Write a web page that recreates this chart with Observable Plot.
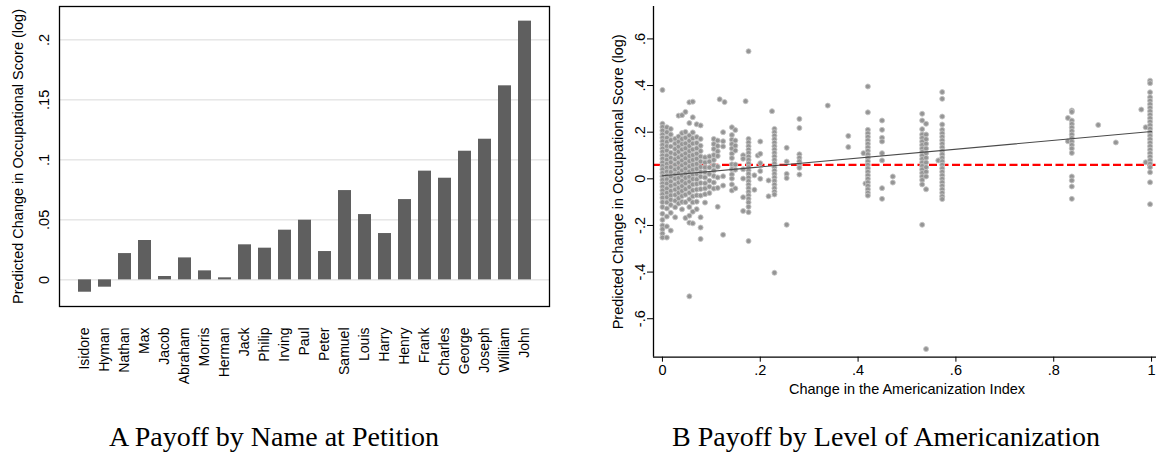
<!DOCTYPE html>
<html>
<head>
<meta charset="utf-8">
<script src="https://cdn.jsdelivr.net/npm/d3@7"></script>
<script src="https://cdn.jsdelivr.net/npm/@observablehq/plot@0.6"></script>
<style>
  html, body { margin: 0; padding: 0; background: #fff; overflow: hidden; }
  #wrap { position: relative; width: 1156px; height: 453px; overflow: hidden; background: #fff; }
  .panel { position: absolute; top: 0; }
  .panel svg { max-width: none !important; display: block; }
  .cap { position: absolute; font-family: "Liberation Serif", "Times New Roman", serif; font-size: 28px; line-height: 28px; white-space: nowrap; color: #000; transform: translateX(-50%); }
</style>
</head>
<body>
<div id="wrap">
  <div id="panelA" class="panel" style="left:0px; width:590px"></div>
  <div id="panelB" class="panel" style="left:590px; width:580px"></div>
  <div class="cap" style="left:274px; top:423px">A Payoff by Name at Petition</div>
  <div class="cap" style="left:886px; top:423px">B Payoff by Level of Americanization</div>
</div>
<script>
// ---------- Panel A data ----------
const names = ["Isidore","Hyman","Nathan","Max","Jacob","Abraham","Morris","Herman","Jack","Philip","Irving","Paul","Peter","Samuel","Louis","Harry","Henry","Frank","Charles","George","Joseph","William","John"];
const payoff = [-0.0103,-0.0061,0.0219,0.0328,0.0028,0.0183,0.0075,0.0017,0.0292,0.0264,0.0414,0.0497,0.0236,0.0744,0.0544,0.0386,0.0669,0.0906,0.0847,0.1072,0.1172,0.1617,0.2156];
const yTicksA = [0, 0.05, 0.1, 0.15, 0.2];
const yTickLabelsA = ["0", ".05", ".1", ".15", ".2"];
const yDomainA = [-0.0222, 0.2278];
const yTitle = "Predicted Change in Occupational Score (log)";

// ---------- Panel B data ----------
const xTicksB = [0, 0.2, 0.4, 0.6, 0.8, 1];
const xTickLabelsB = ["0", ".2", ".4", ".6", ".8", "1"];
const yTicksB = [-0.6, -0.4, -0.2, 0, 0.2, 0.4, 0.6];
const yTickLabelsB = ["-.6", "-.4", "-.2", "0", ".2", ".4", ".6"];
const xDomainB = [-0.0183, 1.0183];
const yDomainB = [-0.765, 0.739];
const xTitleB = "Change in the Americanization Index";
const meanPayoff = 0.06;
const fitX = [0, 1];
const fitY = [0.013, 0.203];

const columnX = [0.000,0.009,0.017,0.026,0.033,0.040,0.047,0.055,0.062,0.070,0.078,0.087,0.096,0.105,0.113,0.117,0.124,0.127,0.142,0.149,0.165,0.170,0.176,0.188,0.195,0.200,0.217,0.224,0.229,0.254,0.280,0.338,0.380,0.411,0.415,0.420,0.449,0.471,0.531,0.539,0.564,0.572,0.829,0.837,0.891,0.927,0.979,0.988,0.997];
const columnY = [
  [0.381,0.236,0.222,0.207,0.19,0.176,0.161,0.145,0.13,0.116,0.1,0.086,0.07,0.055,0.041,0.025,0.011,-0.005,-0.02,-0.034,-0.05,-0.066,-0.081,-0.1,-0.121,-0.15,-0.176,-0.2,-0.216,-0.235,-0.252],
  [0.221,0.2,0.176,0.158,0.14,0.121,0.1,0.082,0.064,0.048,0.031,0.014,-0.002,-0.02,-0.041,-0.06,-0.079,-0.101,-0.127,-0.162,-0.204,-0.252],
  [0.214,0.19,0.166,0.139,0.112,0.09,0.071,0.05,0.029,0.01,-0.011,-0.03,-0.052,-0.071,-0.09,-0.112,-0.146,-0.222],
  [0.172,0.151,0.128,0.106,0.084,0.061,0.04,0.019,0,-0.024,-0.046,-0.069,-0.094,-0.122,-0.165],
  [0.271,0.181,0.159,0.138,0.116,0.092,0.069,0.046,0.024,0.004,-0.016,-0.039,-0.06,-0.083,-0.106],
  [0.273,0.196,0.171,0.149,0.126,0.101,0.079,0.058,0.036,0.014,-0.009,-0.031,-0.052,-0.074,-0.099,-0.131],
  [0.287,0.201,0.176,0.152,0.131,0.109,0.088,0.066,0.044,0.023,0.004,-0.019,-0.044,-0.068,-0.1,-0.168],
  [0.328,0.239,0.186,0.163,0.141,0.119,0.098,0.076,0.054,0.031,0.009,-0.012,-0.035,-0.06,-0.088,-0.121,-0.158,-0.188,-0.504],
  [0.331,0.264,0.199,0.174,0.151,0.126,0.102,0.081,0.06,0.039,0.018,-0.001,-0.024,-0.049,-0.075,-0.101,-0.141,-0.191],
  [0.234,0.179,0.154,0.131,0.108,0.086,0.064,0.043,0.021,-0.002,-0.022,-0.046,-0.071,-0.098,-0.13],
  [0.229,0.171,0.142,0.119,0.096,0.074,0.051,0.029,0.009,-0.018,-0.044,-0.072,-0.165,-0.209,-0.258],
  [0.092,0.07,0.049,0.028,0.006,-0.019,-0.041,-0.066,-0.102],
  [0.096,0.074,0.049,0.021,-0.008,-0.034,-0.061],
  [0.171,0.149,0.128,0.102,0.081,0.058,0.036,0.012,-0.016,-0.042],
  [0.164,0.141,0.118,0.098,0.052,0.006,-0.039,-0.12],
  [0.341],
  [0.2,0.161,0.139,0.011,-0.029,-0.24],
  [0.329],
  [0.221,0.188,0.168,0.149,0.13,0.108,0.089,0.062,0.041,0.019,0.001,-0.024,-0.05],
  [0.209,0.164,0.142,0.121,0.061,0.039,-0.041],
  [0.101,0.086,0.041,0.001,-0.079,-0.138],
  [0.333],
  [0.547,0.171,0.156,0.14,0.125,0.111,0.095,0.081,0.066,0.05,0.036,0.021,0.005,-0.01,-0.025,-0.04,-0.056,-0.071,-0.086,-0.101,-0.12,-0.143,-0.267],
  [0.015,-0.047],
  [0.1],
  [0.16,0.107,0.067,0.033,0],
  [-0.007,-0.075],
  [0.29],
  [0.214,0.2,0.185,0.17,0.155,0.14,0.126,0.111,0.096,0.081,0.066,0.05,0.035,0.021,0.006,-0.009,-0.025,-0.04,-0.055,-0.067,-0.403],
  [0.133,0.074,0.021,0.003,-0.197],
  [0.257,0.218,0.105,0.09,0.075,0.06,0.047,0.018],
  [0.314],
  [0.184,0.136],
  [0.11],
  [-0.02],
  [0.396,0.285,0.21,0.195,0.18,0.165,0.15,0.135,0.12,0.105,0.09,0.075,0.06,0.045,0.03,0.015,0,-0.015,-0.03,-0.045,-0.06,-0.072],
  [0.25,0.21,0.176,0.16,0.11,0.079,-0.04,-0.086],
  [0.01,-0.016],
  [0.279,0.25,0.213,0.19,0.175,0.16,0.145,0.13,0.115,0.1,0.085,0.07,0.055,0.04,0.025,0.01,-0.005,-0.024,-0.197],
  [0.236,0.19,0.17,0.15,0.13,0.11,0.09,0.07,0.05,0.03,0.01,-0.045,-0.73],
  [0.079],
  [0.372,0.343,0.267,0.233,0.21,0.195,0.18,0.165,0.15,0.135,0.12,0.105,0.09,0.075,0.06,0.045,0.03,0.015,0,-0.015,-0.03,-0.045,-0.06,-0.075,-0.087],
  [0.261,0.161],
  [0.293,0.287,0.25,0.235,0.22,0.205,0.19,0.175,0.16,0.145,0.13,0.111,0.01,-0.007,-0.033,-0.086],
  [0.231],
  [0.156],
  [0.297],
  [0.221,0.071],
  [0.421,0.41,0.371,0.35,0.335,0.32,0.305,0.29,0.275,0.26,0.245,0.23,0.215,0.2,0.185,0.17,0.155,0.14,0.125,0.11,0.095,0.08,0.065,0.05,0.028,-0.015,-0.109]
];

// ---------- build tables ----------
const barData = names.map((n, i) => ({name: n, value: payoff[i]}));
const points = columnX.flatMap((x, i) => columnY[i].map(y => ({x, y})));
const fitData = fitX.map((x, i) => ({x, y: fitY[i]}));

const font = "'Liberation Sans', Arial, Helvetica, sans-serif";

// ---------- Panel A ----------
const chartA = Plot.plot({
  width: 590, height: 400,
  marginLeft: 59, marginRight: 41, marginTop: 6, marginBottom: 94,
  style: {fontFamily: font, fontSize: "14px", color: "#000", background: "transparent", overflow: "visible"},
  x: {domain: names, paddingInner: 0.36, paddingOuter: 0.85, label: null},
  y: {domain: yDomainA, label: null},
  marks: [
    Plot.gridY(yTicksA, {stroke: "#d9d9d9", strokeOpacity: 1, strokeWidth: 1}),
    Plot.barY(barData, {x: "name", y1: 0, y2: "value", fill: "#5f5f5f"}),
    Plot.frame({stroke: "#000", strokeWidth: 1.3}),
    Plot.axisX({tickSize: 0, tickPadding: 21, tickRotate: -90, fontSize: 14, label: null}),
    Plot.axisY(yTicksA, {tickSize: 0, tickPadding: 11, tickRotate: -90, fontSize: 14.5, label: null,
      tickFormat: d => yTickLabelsA[yTicksA.indexOf(d)]}),
    Plot.text([yTitle], {text: d => d, frameAnchor: "left", textAnchor: "middle", lineAnchor: "middle", dx: -41.5, rotate: -90, fontSize: 14.5, fill: "#000"})
  ]
});
document.getElementById("panelA").appendChild(chartA);

// ---------- Panel B ----------
const chartB = Plot.plot({
  width: 580, height: 400,
  marginLeft: 63, marginRight: 10, marginTop: 6, marginBottom: 43.3,
  style: {fontFamily: font, fontSize: "14px", color: "#000", background: "transparent", overflow: "visible"},
  x: {domain: xDomainB, label: null},
  y: {domain: yDomainB, label: null},
  marks: [
    Plot.ruleY([meanPayoff], {stroke: "#ff0000", strokeWidth: 2.4, strokeDasharray: "8,3.5"}),
    Plot.dot(points, {x: "x", y: "y", r: 2.5, fill: "#959595", stroke: "#c4c4c4", strokeWidth: 0.9}),
    Plot.line(fitData, {x: "x", y: "y", stroke: "#4a4a4a", strokeWidth: 1.1}),
    Plot.ruleX([xDomainB[0]], {stroke: "#000", strokeWidth: 1.3}),
    Plot.ruleY([yDomainB[0]], {stroke: "#000", strokeWidth: 1.3}),
    Plot.axisX(xTicksB, {tickSize: 5, tickPadding: 3, fontSize: 14.5, label: null,
      tickFormat: d => xTickLabelsB[xTicksB.indexOf(d)]}),
    Plot.axisY(yTicksB, {tickSize: 6, tickPadding: 3, tickRotate: -90, fontSize: 14.5, label: null,
      tickFormat: d => yTickLabelsB[yTicksB.indexOf(d)]}),
    Plot.text([yTitle], {text: d => d, frameAnchor: "left", textAnchor: "middle", lineAnchor: "middle", dx: -35, rotate: -90, fontSize: 14.5, fill: "#000"}),
    Plot.text([xTitleB], {text: d => d, frameAnchor: "bottom", textAnchor: "middle", lineAnchor: "top", dy: 27, fontSize: 14.5, fill: "#000"})
  ]
});
document.getElementById("panelB").appendChild(chartB);
</script>
</body>
</html>
